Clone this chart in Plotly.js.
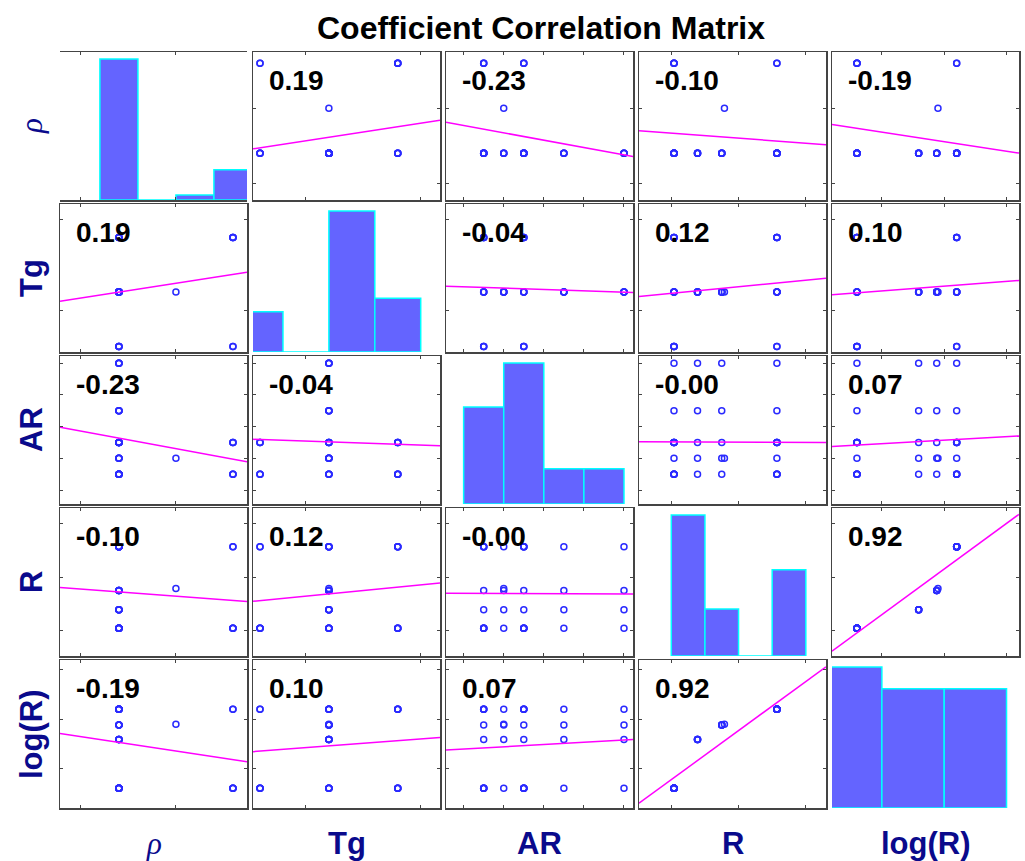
<!DOCTYPE html>
<html>
<head>
<meta charset="utf-8">
<script src="https://cdn.plot.ly/plotly-3.0.1.min.js"></script>
<style>
html,body{margin:0;padding:0;background:#ffffff;}
#chart{width:1025px;height:861px;}
</style>
</head>
<body>
<div id="chart"></div>
<script>
// ---------------- DATA ----------------
const varLabels = ['<i>ρ</i>', '<b>Tg</b>', '<b>AR</b>', '<b>R</b>', '<b>log(R)</b>'];

const rho  = [1.2,1.2,1.2,1.2, 1.2,1.2,1.2,1.2, 1.2,1.2,1.2,1.2, 1.2,1.2,1.2,1.2, 1.2,1.2,1.2,1.2,
              1.5,
              1.2,1.8,1.2,1.8,1.2,1.8,1.2,1.8,
              1.2,1.8,1.2,1.2,1.8,1.2];
const Tg   = [60,60,60,60, 60,60,60,60, 60,60,60,60, 60,60,60,60, 60,60,60,60,
              60,
              90,90,90,90,90,90,90,90,
              30,30,30,30,30,30];
const AR   = [1,1,1,1, 2,2,2,2, 3,3,3,3, 5,5,5,5, 8,8,8,8,
              2,
              1,1,1,1,3,3,3,3,
              1,1,1,3,3,3];
const R    = [0.4,3.9,7.5,15.7, 0.4,3.9,7.5,15.7, 0.4,3.9,7.5,15.7, 0.4,3.9,7.5,15.7, 0.4,3.9,7.5,15.7,
              7.9,
              0.4,0.4,15.7,15.7,0.4,0.4,15.7,15.7,
              0.4,0.4,15.7,0.4,0.4,15.7];
const logR = [-0.40,0.59,0.88,1.20, -0.40,0.59,0.88,1.20, -0.40,0.59,0.88,1.20, -0.40,0.59,0.88,1.20, -0.40,0.59,0.88,1.20,
              0.90,
              -0.40,-0.40,1.20,1.20,-0.40,-0.40,1.20,1.20,
              -0.40,-0.40,1.20,-0.40,-0.40,1.20];

const corrLabels = [
  ['',      '0.19',  '-0.23', '-0.10', '-0.19'],
  ['0.19',  '',      '-0.04', '0.12',  '0.10'],
  ['-0.23', '-0.04', '',      '-0.00', '0.07'],
  ['-0.10', '0.12',  '-0.00', '',      '0.92'],
  ['-0.19', '0.10',  '0.07',  '0.92',  '']
];

const histEdges = [
  [1.1, 1.3, 1.5, 1.7, 1.9],
  [20, 40, 60, 80, 100],
  [0, 2, 4, 6, 8],
  [0, 5, 10, 15, 20],
  [-1, 0, 1, 2]
];

const tickValues = [[1.0, 1.5], [50, 100], [0, 2, 4, 6, 8], [0, 10, 20], [0, 1, 2]];
const titleText = 'Coefficient Correlation Matrix';

// ---------------- LAYOUT / STYLE ----------------
const vars = [rho, Tg, AR, R, logR];
const axisRanges = [[0.89, 1.874], [26.95, 108.4], [-0.88, 8.45], [-4.8, 23.0], [-0.80, 2.20]];

const W = 1025, H = 861;
const colLeft0 = 60, colStep = 193, colW = 187;
const rowTop0 = 52, rowStep = 152, rowH = 148;
const n = 5;

const frameColor = '#444444';
const labelColor = '#0a0a8c';
const sans = 'Liberation Sans, Arial, Helvetica, sans-serif';
const serif = 'Liberation Serif, Times New Roman, serif';

function mean(a){ let s=0; for(const v of a) s+=v; return s/a.length; }
function fit(x, y){
  const mx = mean(x), my = mean(y);
  let sxy = 0, sxx = 0;
  for (let i=0;i<x.length;i++){ sxy += (x[i]-mx)*(y[i]-my); sxx += (x[i]-mx)*(x[i]-mx); }
  const b = sxy/sxx;
  return {a: my - b*mx, b: b};
}
function histCounts(v, edges){
  const nb = edges.length - 1;
  const c = new Array(nb).fill(0);
  for (const x of v){
    let k = -1;
    for (let e=0;e<edges.length;e++){ if (x >= edges[e] - 1e-9) k = e; }
    if (k < 0) continue;
    if (k > nb-1) k = nb-1;
    c[k]++;
  }
  return c;
}

const traces = [];
const layout = {
  width: W, height: H,
  margin: {l:0, r:0, t:0, b:0, pad:0},
  paper_bgcolor: '#ffffff',
  plot_bgcolor: 'rgba(0,0,0,0)',
  showlegend: false,
  title: {
    text: '<b>' + titleText + '</b>',
    font: {family: sans, size: 32, color: '#000000'},
    xref: 'container', yref: 'container',
    x: 541/W, xanchor: 'center',
    y: 1 - 28/H, yanchor: 'middle'
  },
  annotations: []
};

function axName(k){ return k === 1 ? '' : String(k); }

let overlayIdx = n*n + 1;
for (let i=0;i<n;i++){
  for (let j=0;j<n;j++){
    const k = i*n + j + 1;
    const s = axName(k);
    const x0 = colLeft0 + j*colStep, x1 = x0 + colW;
    const yTop = rowTop0 + i*rowStep, yBot = yTop + rowH;
    const yDomain = [1 - yBot/H, 1 - yTop/H];
    const common = {
      ticks: 'inside', ticklen: 3, tickwidth: 1, tickcolor: frameColor,
      showticklabels: false, showline: true, linecolor: frameColor, linewidth: 1.5,
      mirror: 'ticks', showgrid: false, zeroline: false, fixedrange: true
    };
    layout['xaxis' + s] = Object.assign({}, common, {
      domain: [x0/W, x1/W], range: axisRanges[j], tickvals: tickValues[j],
      anchor: 'y' + s
    });
    layout['yaxis' + s] = Object.assign({}, common, {
      domain: yDomain, range: axisRanges[i], tickvals: tickValues[i],
      anchor: 'x' + s
    });

    if (i === j){
      const edges = histEdges[i];
      const counts = histCounts(vars[i], edges);
      const centers = [], widths = [];
      for (let e=0;e<edges.length-1;e++){ centers.push((edges[e]+edges[e+1])/2); widths.push(edges[e+1]-edges[e]); }
      const maxC = Math.max.apply(null, counts);
      const os = String(overlayIdx++);
      layout['yaxis' + os] = {
        overlaying: 'y' + s, anchor: 'x' + s, domain: yDomain, range: [0, 1.05*maxC],
        visible: false, fixedrange: true, showgrid: false, zeroline: false
      };
      traces.push({
        type: 'bar', x: centers, y: counts, width: widths,
        xaxis: 'x' + s, yaxis: 'y' + os,
        marker: {color: '#6464ff', line: {color: '#00ffff', width: 1.5}},
        hoverinfo: 'skip'
      });
    } else {
      const xv = vars[j], yv = vars[i];
      traces.push({
        type: 'scatter', mode: 'markers', x: xv, y: yv,
        xaxis: 'x' + s, yaxis: 'y' + s,
        marker: {symbol: 'circle-open', size: 6, color: '#2a2aff', line: {width: 1.5}},
        hoverinfo: 'skip'
      });
      const f = fit(xv, yv);
      const lo = axisRanges[j][0], hi = axisRanges[j][1];
      traces.push({
        type: 'scatter', mode: 'lines', x: [lo, hi], y: [f.a + f.b*lo, f.a + f.b*hi],
        xaxis: 'x' + s, yaxis: 'y' + s,
        line: {color: '#ff00ff', width: 1.5},
        hoverinfo: 'skip'
      });
      layout.annotations.push({
        xref: 'paper', yref: 'paper',
        x: (x0 + 14)/W, y: 1 - (yTop + 28)/H,
        xanchor: 'left', yanchor: 'middle',
        text: '<b>' + corrLabels[i][j] + '</b>',
        showarrow: false,
        font: {family: sans, size: 28, color: '#000000'}
      });
    }
  }
}

// axis labels (left, rotated) and bottom
for (let i=0;i<n;i++){
  const isRho = i === 0;
  const yTop = rowTop0 + i*rowStep;
  layout.annotations.push({
    xref: 'paper', yref: 'paper',
    x: 31/W, y: 1 - (yTop + rowH/2)/H,
    xanchor: 'center', yanchor: 'middle', textangle: -90,
    text: varLabels[i], showarrow: false,
    font: {family: isRho ? serif : sans, size: 31, color: labelColor}
  });
  const x0 = colLeft0 + i*colStep;
  layout.annotations.push({
    xref: 'paper', yref: 'paper',
    x: (x0 + colW/2)/W, y: 1 - 843/H,
    xanchor: 'center', yanchor: 'middle',
    text: varLabels[i], showarrow: false,
    font: {family: isRho ? serif : sans, size: 31, color: labelColor}
  });
}

Plotly.newPlot('chart', traces, layout, {staticPlot: true, displayModeBar: false});
</script>
</body>
</html>
